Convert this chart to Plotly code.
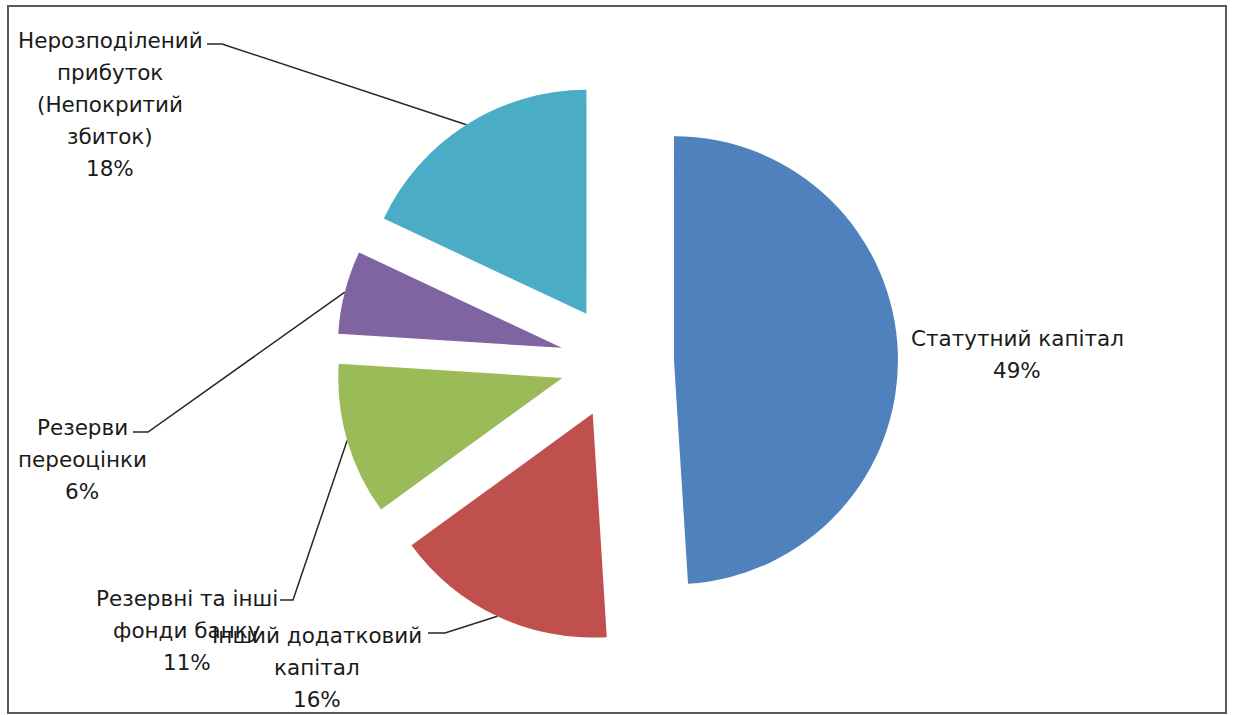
import math
import plotly.graph_objects as go

# ---- data ----
labels = [
    "Статутний капітал",
    "Інший додатковий капітал",
    "Резервні та інші фонди банку",
    "Резерви переоцінки",
    "Нерозподілений прибуток (Непокритий збиток)",
]
values = [49, 16, 11, 6, 18]
label_lines = [
    ["Статутний капітал"],
    ["Інший додатковий", "капітал"],
    ["Резервні та інші", "фонди банку"],
    ["Резерви", "переоцінки"],
    ["Нерозподілений", "прибуток", "(Непокритий", "збиток)"],
]

# ---- styling / layout ----
colors = ["#4F81BD", "#C0504D", "#9BBB59", "#8064A2", "#4BACC6"]
W, H = 1235, 715
CX, CY, R, PULL = 617, 362, 224, 0.2545
label_pos = [(1017, 338), (317, 635), (187, 598), (82, 427), (110, 40)]
line_gap = 32
stubs = [None, (428, 445, 633), (280, 293, 600), (133, 148, 432), (207, 222, 44)]
FONT = "DejaVu Sans"
TXT = "#1a1a1a"

half = R * (1 + PULL)
total = sum(values)

fig = go.Figure()

fig.add_trace(go.Pie(
    labels=labels, values=values, sort=False, direction="clockwise", rotation=0,
    marker=dict(colors=colors, line=dict(width=0)),
    pull=[PULL] * len(values), textinfo="none", hoverinfo="label+percent",
    showlegend=False,
    domain=dict(x=[(CX - half) / W, (CX + half) / W],
                y=[1 - (CY + half) / H, 1 - (CY - half) / H]),
))

annotations = []
cum = 0
for i, v in enumerate(values):
    theta = 2 * math.pi * (cum + v / 2) / total
    cum += v
    ax_ = CX + half * math.sin(theta)
    ay_ = CY - half * math.cos(theta)
    if stubs[i] is not None:
        sx0, sx1, sy = stubs[i]
        fig.add_trace(go.Scatter(
            x=[sx0, sx1, ax_], y=[sy, sy, ay_], mode="lines",
            line=dict(color="#262626", width=1.5), hoverinfo="skip",
            showlegend=False))
    lines = label_lines[i] + [f"{v / total * 100:.0f}%"]
    lx, ly = label_pos[i]
    for j, t in enumerate(lines):
        annotations.append(dict(
            x=lx, y=ly + j * line_gap, xref="x", yref="y", text=t,
            showarrow=False, xanchor="center", yanchor="middle",
            font=dict(family=FONT, size=21.5, color=TXT)))

fig.update_layout(
    width=W, height=H, margin=dict(l=0, r=0, t=0, b=0),
    paper_bgcolor="white", plot_bgcolor="rgba(0,0,0,0)",
    xaxis=dict(range=[0, W], visible=False, fixedrange=True),
    yaxis=dict(range=[H, 0], visible=False, fixedrange=True),
    annotations=annotations,
    shapes=[dict(type="rect", xref="x", yref="y", x0=8, y0=6, x1=1226, y1=713,
                 line=dict(color="#5a5a5a", width=2), fillcolor="rgba(0,0,0,0)")],
)

fig.write_html("out.html")
